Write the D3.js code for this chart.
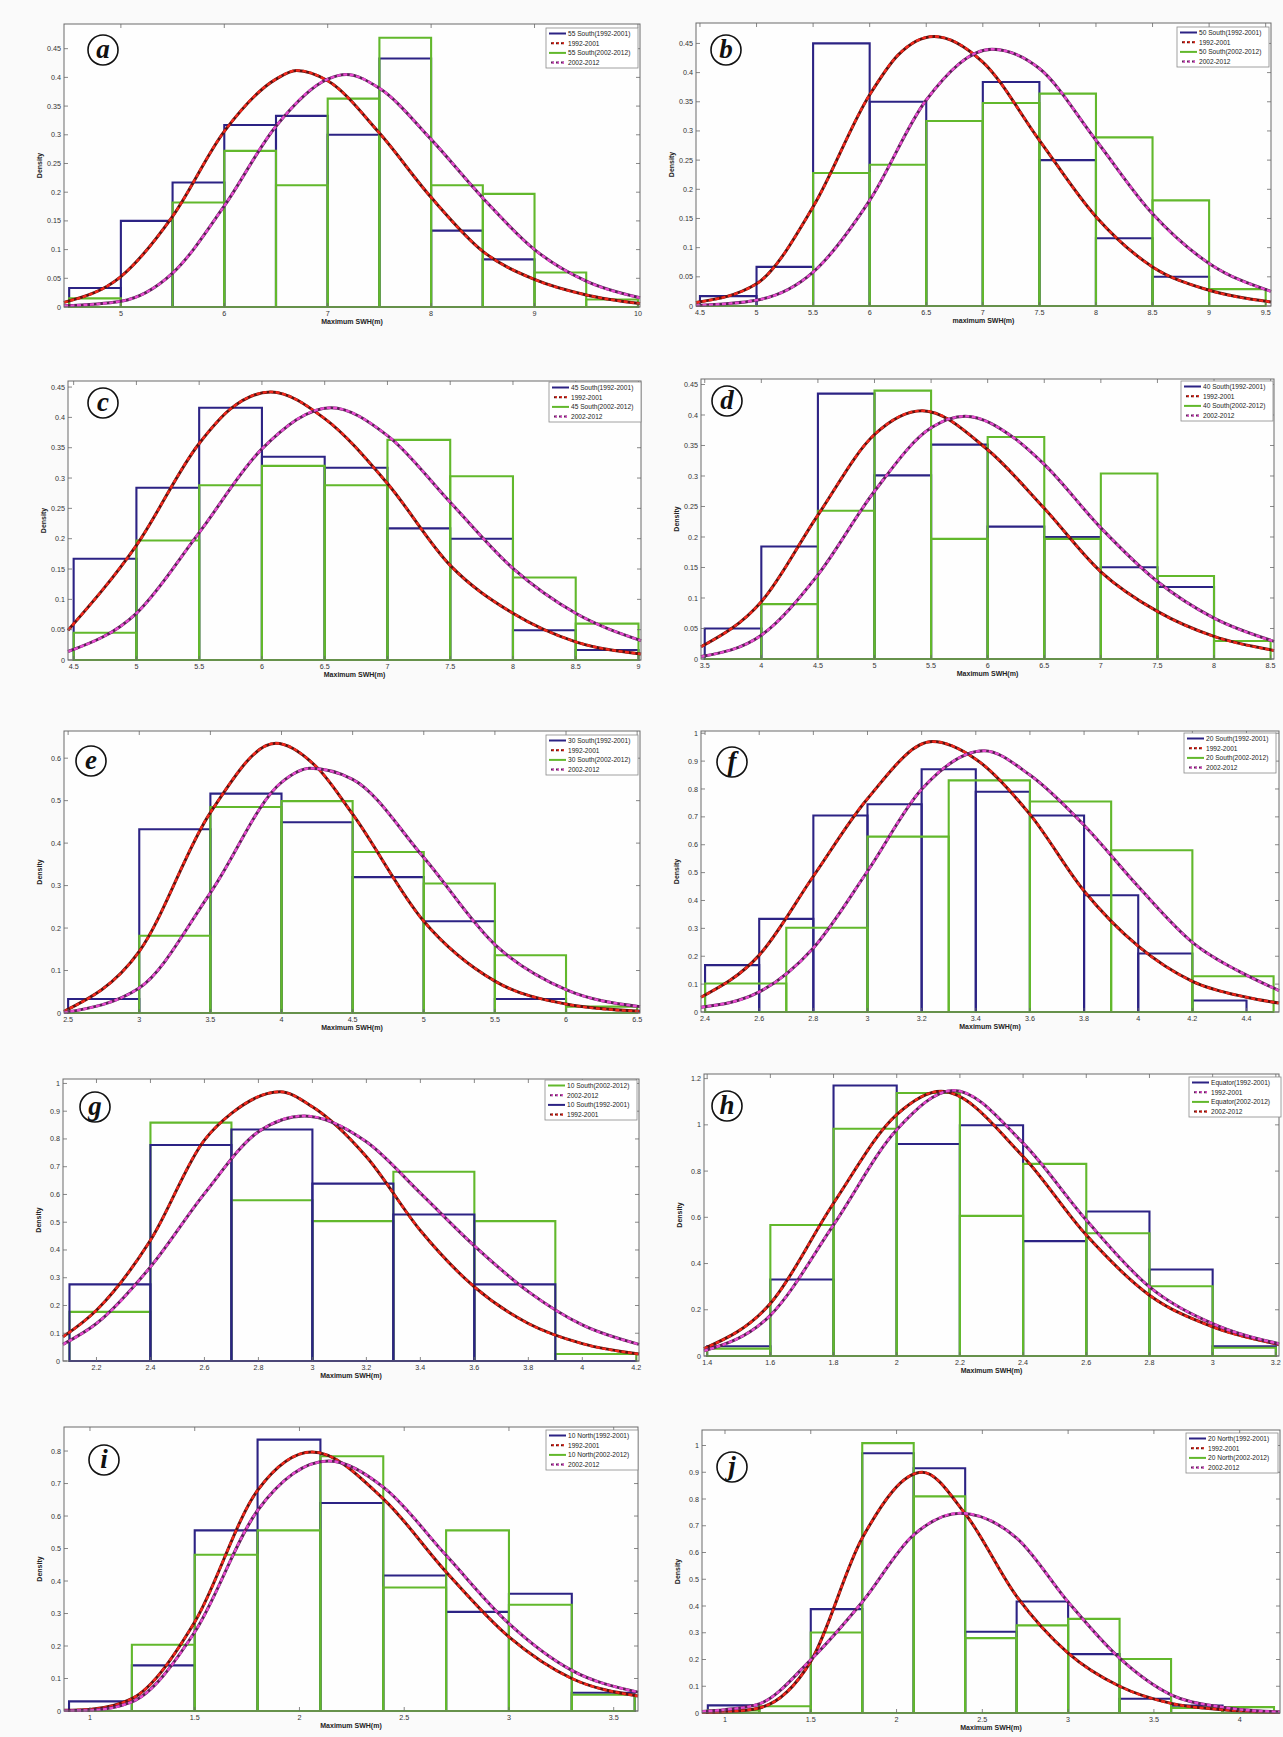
<!DOCTYPE html>
<html>
<head>
<meta charset="utf-8">
<script src="https://cdn.jsdelivr.net/npm/d3@7"></script>
<style>
  body { margin: 0; background: #fafafa; }
  svg { display: block; }
</style>
</head>
<body>
<svg id="chart" width="1283" height="1737"></svg>
<script>
// ---------------- data ----------------
// histograms: bin edges + density per bin; fits: [x, density] points along the fitted curve

// (a) 55 South
const a_edges = [4.5, 5, 5.5, 6, 6.5, 7, 7.5, 8, 8.5, 9, 9.5, 10];
const a_blue  = [0.033, 0.15, 0.217, 0.317, 0.333, 0.30, 0.433, 0.133, 0.083, 0, 0];
const a_green = [0.015, 0, 0.182, 0.272, 0.212, 0.363, 0.469, 0.212, 0.197, 0.06, 0.013];
const a_red   = [[4.45,0.008],[5,0.053],[5.5,0.158],[6,0.306],[6.5,0.397],[6.7,0.412],[7,0.394],[7.5,0.303],[8,0.191],[8.5,0.097],[9,0.048],[9.5,0.021],[10.02,0.006]];
const a_pink  = [[4.45,0.002],[5,0.01],[5.5,0.059],[6,0.176],[6.5,0.315],[7,0.397],[7.18,0.405],[7.5,0.381],[8,0.292],[8.5,0.19],[9,0.10],[9.5,0.045],[10.02,0.016]];
const a_xTicks = [5, 6, 7, 8, 9, 10];
const a_yTicks = [0, 0.05, 0.1, 0.15, 0.2, 0.25, 0.3, 0.35, 0.4, 0.45];

// (b) 50 South
const b_edges = [4.5, 5, 5.5, 6, 6.5, 7, 7.5, 8, 8.5, 9, 9.5];
const b_blue  = [0.017, 0.067, 0.45, 0.35, 0.317, 0.384, 0.25, 0.116, 0.05, 0];
const b_green = [0, 0, 0.228, 0.242, 0.317, 0.348, 0.364, 0.289, 0.181, 0.029];
const b_red   = [[4.465,0.006],[5,0.038],[5.5,0.17],[6,0.362],[6.25,0.43],[6.57,0.462],[7,0.418],[7.5,0.284],[8,0.153],[8.5,0.067],[9,0.027],[9.547,0.007]];
const b_pink  = [[4.465,0.001],[5,0.01],[5.5,0.058],[6,0.181],[6.5,0.353],[7.08,0.44],[7.5,0.407],[8,0.284],[8.5,0.158],[9,0.073],[9.547,0.025]];
const b_xTicks = [4.5, 5, 5.5, 6, 6.5, 7, 7.5, 8, 8.5, 9, 9.5];
const b_yTicks = [0, 0.05, 0.1, 0.15, 0.2, 0.25, 0.3, 0.35, 0.4, 0.45];

// (c) 45 South
const c_edges = [4.5, 5, 5.5, 6, 6.5, 7, 7.5, 8, 8.5, 9];
const c_blue  = [0.167, 0.284, 0.416, 0.335, 0.317, 0.217, 0.20, 0.049, 0.0165];
const c_green = [0.045, 0.197, 0.288, 0.32, 0.288, 0.363, 0.303, 0.136, 0.06];
const c_red   = [[4.455,0.049],[5,0.189],[5.5,0.357],[5.75,0.414],[6.07,0.442],[6.5,0.398],[7,0.291],[7.5,0.156],[8,0.077],[8.5,0.03],[9.02,0.01]];
const c_pink  = [[4.455,0.014],[5,0.077],[5.5,0.21],[6,0.348],[6.55,0.416],[7,0.37],[7.5,0.26],[8,0.151],[8.5,0.077],[9.02,0.032]];
const c_xTicks = [4.5, 5, 5.5, 6, 6.5, 7, 7.5, 8, 8.5, 9];
const c_yTicks = [0, 0.05, 0.1, 0.15, 0.2, 0.25, 0.3, 0.35, 0.4, 0.45];

// (d) 40 South
const d_edges = [3.5, 4, 4.5, 5, 5.5, 6, 6.5, 7, 7.5, 8, 8.5];
const d_blue  = [0.05, 0.1845, 0.435, 0.301, 0.3515, 0.217, 0.20, 0.1505, 0.118, 0];
const d_green = [0, 0.09, 0.243, 0.44, 0.197, 0.364, 0.197, 0.304, 0.136, 0.0296];
const d_red   = [[3.467,0.02],[4,0.094],[4.5,0.236],[5,0.368],[5.42,0.407],[6,0.343],[6.5,0.247],[7,0.143],[7.5,0.078],[8,0.037],[8.53,0.014]];
const d_pink  = [[3.467,0.004],[4,0.039],[4.5,0.138],[5,0.275],[5.5,0.379],[5.8,0.398],[6.25,0.36],[6.5,0.319],[7,0.215],[7.5,0.127],[8,0.067],[8.53,0.029]];
const d_xTicks = [3.5, 4, 4.5, 5, 5.5, 6, 6.5, 7, 7.5, 8, 8.5];
const d_yTicks = [0, 0.05, 0.1, 0.15, 0.2, 0.25, 0.3, 0.35, 0.4, 0.45];

// (e) 30 South
const e_edges = [2.5, 3, 3.5, 4, 4.5, 5, 5.5, 6, 6.5];
const e_blue  = [0.033, 0.4325, 0.5166, 0.449, 0.32, 0.216, 0.033, 0];
const e_green = [0, 0.182, 0.485, 0.499, 0.379, 0.305, 0.136, 0.015];
const e_red   = [[2.471,0.004],[3,0.145],[3.5,0.472],[3.96,0.635],[4.25,0.578],[4.5,0.468],[5,0.216],[5.5,0.075],[6,0.021],[6.52,0.004]];
const e_pink  = [[2.471,0.001],[3,0.059],[3.5,0.283],[4,0.543],[4.2,0.576],[4.5,0.55],[5,0.366],[5.5,0.161],[6,0.055],[6.52,0.015]];
const e_xTicks = [2.5, 3, 3.5, 4, 4.5, 5, 5.5, 6, 6.5];
const e_yTicks = [0, 0.1, 0.2, 0.3, 0.4, 0.5, 0.6];

// (f) 20 South (different bin widths for the two periods)
const f_edgesBlue  = [2.4, 2.6, 2.8, 3.0, 3.2, 3.4, 3.6, 3.8, 4.0, 4.2, 4.4];
const f_blue       = [0.168, 0.334, 0.705, 0.745, 0.871, 0.79, 0.705, 0.419, 0.21, 0.041];
const f_edgesGreen = [2.4, 2.7, 3.0, 3.3, 3.6, 3.9, 4.2, 4.5];
const f_green      = [0.102, 0.302, 0.629, 0.831, 0.755, 0.58, 0.128];
const f_red   = [[2.385,0.053],[2.6,0.204],[2.8,0.487],[3.0,0.765],[3.24,0.97],[3.4,0.907],[3.6,0.709],[3.8,0.434],[4.0,0.236],[4.2,0.11],[4.4,0.053],[4.52,0.032]];
const f_pink  = [[2.385,0.017],[2.6,0.072],[2.8,0.23],[3.0,0.505],[3.2,0.799],[3.43,0.937],[3.6,0.85],[3.8,0.67],[4.0,0.45],[4.2,0.25],[4.4,0.132],[4.52,0.077]];
const f_xTicks = [2.4, 2.6, 2.8, 3, 3.2, 3.4, 3.6, 3.8, 4, 4.2, 4.4];
const f_yTicks = [0, 0.1, 0.2, 0.3, 0.4, 0.5, 0.6, 0.7, 0.8, 0.9, 1];

// (g) 10 South
const g_edges = [2.1, 2.4, 2.7, 3.0, 3.3, 3.6, 3.9, 4.2];
const g_blue  = [0.276, 0.778, 0.834, 0.639, 0.528, 0.276, 0];
const g_green = [0.177, 0.859, 0.579, 0.504, 0.682, 0.504, 0.025];
const g_red   = [[2.076,0.087],[2.2,0.183],[2.4,0.435],[2.6,0.796],[2.7,0.892],[2.88,0.97],[3.0,0.916],[3.2,0.736],[3.4,0.47],[3.6,0.267],[3.8,0.135],[4.0,0.0625],[4.21,0.025]];
const g_pink  = [[2.076,0.06],[2.2,0.135],[2.4,0.339],[2.6,0.603],[2.8,0.826],[2.97,0.883],[3.2,0.79],[3.4,0.605],[3.6,0.415],[3.8,0.25],[4.0,0.13],[4.21,0.06]];
const g_xTicks = [2.2, 2.4, 2.6, 2.8, 3, 3.2, 3.4, 3.6, 3.8, 4, 4.2];
const g_yTicks = [0, 0.1, 0.2, 0.3, 0.4, 0.5, 0.6, 0.7, 0.8, 0.9, 1];

// (h) Equator (here the pink fit is 1992-2001, the red one 2002-2012)
const h_edges = [1.4, 1.6, 1.8, 2.0, 2.2, 2.4, 2.6, 2.8, 3.0, 3.2];
const h_blue  = [0.042, 0.331, 1.17, 0.917, 0.998, 0.497, 0.625, 0.374, 0.042];
const h_green = [0.032, 0.567, 0.983, 1.138, 0.606, 0.831, 0.531, 0.302, 0.036];
const h_red   = [[1.39,0.032],[1.6,0.227],[1.8,0.661],[2.0,1.044],[2.14,1.145],[2.4,0.863],[2.6,0.523],[2.8,0.263],[3.0,0.126],[3.21,0.05]];
const h_pink  = [[1.39,0.022],[1.6,0.176],[1.8,0.567],[2.0,0.979],[2.18,1.149],[2.4,0.921],[2.6,0.588],[2.8,0.299],[3.0,0.14],[3.21,0.053]];
const h_xTicks = [1.4, 1.6, 1.8, 2, 2.2, 2.4, 2.6, 2.8, 3, 3.2];
const h_yTicks = [0, 0.2, 0.4, 0.6, 0.8, 1, 1.2];

// (i) 10 North
const i_edges = [0.9, 1.2, 1.5, 1.8, 2.1, 2.4, 2.7, 3.0, 3.3, 3.6];
const i_blue  = [0.0297, 0.1405, 0.556, 0.835, 0.64, 0.417, 0.305, 0.361, 0.056];
const i_green = [0, 0.204, 0.481, 0.556, 0.784, 0.38, 0.556, 0.327, 0.05];
const i_red   = [[0.876,0.002],[1.0,0.005],[1.2,0.038],[1.5,0.274],[1.8,0.679],[2.06,0.797],[2.4,0.653],[2.7,0.428],[3.0,0.228],[3.3,0.1],[3.616,0.046]];
const i_pink  = [[0.876,0.001],[1.0,0.002],[1.2,0.028],[1.5,0.243],[1.8,0.617],[2.14,0.769],[2.4,0.689],[2.7,0.479],[3.0,0.269],[3.3,0.125],[3.616,0.058]];
const i_xTicks = [1, 1.5, 2, 2.5, 3, 3.5];
const i_yTicks = [0, 0.1, 0.2, 0.3, 0.4, 0.5, 0.6, 0.7, 0.8];

// (j) 20 North
const j_edges = [0.9, 1.2, 1.5, 1.8, 2.1, 2.4, 2.7, 3.0, 3.3, 3.6, 3.9, 4.2];
const j_blue  = [0.0286, 0, 0.3885, 0.971, 0.915, 0.304, 0.417, 0.22, 0.0535, 0.0274, 0];
const j_green = [0.01, 0.025, 0.301, 1.009, 0.81, 0.28, 0.3275, 0.352, 0.202, 0.019, 0.022];
const j_red   = [[0.866,0.001],[1.0,0.004],[1.2,0.019],[1.5,0.193],[1.8,0.654],[2.15,0.90],[2.4,0.745],[2.7,0.436],[3.0,0.224],[3.3,0.1],[3.6,0.036],[3.9,0.0125],[4.235,0.0025]];
const j_pink  = [[0.866,0.006],[1.0,0.0125],[1.2,0.034],[1.5,0.199],[1.8,0.415],[2.1,0.666],[2.37,0.747],[2.7,0.654],[3.0,0.415],[3.3,0.205],[3.6,0.068],[3.9,0.022],[4.235,0.004]];
const j_xTicks = [1, 1.5, 2, 2.5, 3, 3.5, 4];
const j_yTicks = [0, 0.1, 0.2, 0.3, 0.4, 0.5, 0.6, 0.7, 0.8, 0.9, 1];

const regions = ["55 South", "50 South", "45 South", "40 South", "30 South", "20 South", "10 South", "Equator", "10 North", "20 North"];

// ---------------- styles ----------------
const BLUE = "#2c2384";
const GREEN = "#62b82c";
const RED_OVER = "#f4281c", RED_UNDER = "#5e120e";
const PINK_OVER = "#e84ad0", PINK_UNDER = "#5a2256";
const AXIS_COLOR = "#6a6a6a";
const TICK_FONT = "Liberation Sans, Arial, sans-serif";
const TICK_SIZE = 7.2;
const LEGEND_W = 92, LEGEND_H = 40;

// ---------------- layout (pixel boxes, axis ranges) ----------------
function legendStd(name) {
   return [
      { label: name + "(1992-2001)", kind: "blue" },
      { label: "1992-2001", kind: "red" },
      { label: name + "(2002-2012)", kind: "green" },
      { label: "2002-2012", kind: "pink" }
   ];
}

var panels = [
   { tag: "a", box: [64, 24, 640, 307], xd: [4.45, 10.02], yd: [0, 0.493], tagPos: [103, 50], legPos: [546, 28],
     bars: [[a_edges, a_blue, BLUE], [a_edges, a_green, GREEN]], red: a_red, pink: a_pink,
     xTicks: a_xTicks, yTicks: a_yTicks, xLabel: "Maximum SWH(m)", legend: legendStd(regions[0]) },
   { tag: "b", box: [696, 23, 1271, 306], xd: [4.465, 9.547], yd: [0, 0.485], tagPos: [726, 50], legPos: [1177, 27],
     bars: [[b_edges, b_blue, BLUE], [b_edges, b_green, GREEN]], red: b_red, pink: b_pink,
     xTicks: b_xTicks, yTicks: b_yTicks, xLabel: "maximum SWH(m)", legend: legendStd(regions[1]) },
   { tag: "c", box: [68, 381, 641, 660], xd: [4.455, 9.02], yd: [0, 0.46], tagPos: [103, 403], legPos: [549, 382],
     bars: [[c_edges, c_blue, BLUE], [c_edges, c_green, GREEN]], red: c_red, pink: c_pink,
     xTicks: c_xTicks, yTicks: c_yTicks, xLabel: "Maximum SWH(m)", legend: legendStd(regions[2]) },
   { tag: "d", box: [701, 379, 1274, 659], xd: [3.467, 8.53], yd: [0, 0.459], tagPos: [727, 401], legPos: [1181, 381],
     bars: [[d_edges, d_blue, BLUE], [d_edges, d_green, GREEN]], red: d_red, pink: d_pink,
     xTicks: d_xTicks, yTicks: d_yTicks, xLabel: "Maximum SWH(m)", legend: legendStd(regions[3]) },
   { tag: "e", box: [64, 731, 640, 1013], xd: [2.471, 6.52], yd: [0, 0.664], tagPos: [91, 761], legPos: [546, 735],
     bars: [[e_edges, e_blue, BLUE], [e_edges, e_green, GREEN]], red: e_red, pink: e_pink,
     xTicks: e_xTicks, yTicks: e_yTicks, xLabel: "Maximum SWH(m)", legend: legendStd(regions[4]) },
   { tag: "f", box: [701, 731, 1279, 1012], xd: [2.385, 4.52], yd: [0, 1.008], tagPos: [732, 762], legPos: [1184, 733],
     bars: [[f_edgesBlue, f_blue, BLUE], [f_edgesGreen, f_green, GREEN]], red: f_red, pink: f_pink,
     xTicks: f_xTicks, yTicks: f_yTicks, xLabel: "Maximum SWH(m)", legend: legendStd(regions[5]) },
   { tag: "g", box: [63, 1079, 639, 1361], xd: [2.076, 4.21], yd: [0, 1.016], tagPos: [95, 1107], legPos: [545, 1080],
     bars: [[g_edges, g_green, GREEN], [g_edges, g_blue, BLUE]], red: g_red, pink: g_pink,
     xTicks: g_xTicks, yTicks: g_yTicks, xLabel: "Maximum SWH(m)",
     legend: [
        { label: regions[6] + "(2002-2012)", kind: "green" },
        { label: "2002-2012", kind: "pink" },
        { label: regions[6] + "(1992-2001)", kind: "blue" },
        { label: "1992-2001", kind: "red" }
     ] },
   { tag: "h", box: [704, 1074, 1279, 1356], xd: [1.39, 3.21], yd: [0, 1.22], tagPos: [727, 1106], legPos: [1189, 1077],
     bars: [[h_edges, h_blue, BLUE], [h_edges, h_green, GREEN]], red: h_red, pink: h_pink,
     xTicks: h_xTicks, yTicks: h_yTicks, xLabel: "Maximum SWH(m)",
     legend: [
        { label: regions[7] + "(1992-2001)", kind: "blue" },
        { label: "1992-2001", kind: "pink" },
        { label: regions[7] + "(2002-2012)", kind: "green" },
        { label: "2002-2012", kind: "red" }
     ] },
   { tag: "i", box: [64, 1427, 638, 1711], xd: [0.876, 3.616], yd: [0, 0.874], tagPos: [104, 1460], legPos: [546, 1430],
     bars: [[i_edges, i_blue, BLUE], [i_edges, i_green, GREEN]], red: i_red, pink: i_pink,
     xTicks: i_xTicks, yTicks: i_yTicks, xLabel: "Maximum SWH(m)", legend: legendStd(regions[8]) },
   { tag: "j", box: [702, 1430, 1280, 1713], xd: [0.866, 4.235], yd: [0, 1.058], tagPos: [732, 1467], legPos: [1186, 1433],
     bars: [[j_edges, j_blue, BLUE], [j_edges, j_green, GREEN]], red: j_red, pink: j_pink,
     xTicks: j_xTicks, yTicks: j_yTicks, xLabel: "Maximum SWH(m)", legend: legendStd(regions[9]) }
];

var svg = d3.select("#chart");

function fmt(v) { return String(+v.toFixed(3)); }

// dark line underneath, bright dashes on top (the two-tone dashed look of the fits)
function drawFit(g, line, pts, under, over) {
   g.append("path").datum(pts).attr("d", line)
    .attr("fill", "none").attr("stroke", under).attr("stroke-width", 3);
   g.append("path").datum(pts).attr("d", line)
    .attr("fill", "none").attr("stroke", over).attr("stroke-width", 2.4)
    .attr("stroke-dasharray", "4,2.5");
}

function drawPanel(p) {
   var x0 = p.box[0], y0 = p.box[1], x1 = p.box[2], y1 = p.box[3];
   var x = d3.scaleLinear().domain(p.xd).range([x0, x1]);
   var y = d3.scaleLinear().domain(p.yd).range([y1, y0]);
   var g = svg.append("g").attr("class", "panel-" + p.tag);

   // plot background
   g.append("rect").attr("x", x0).attr("y", y0).attr("width", x1 - x0).attr("height", y1 - y0)
    .attr("fill", "#fefefe");

   var clipId = "clip-" + p.tag;
   g.append("clipPath").attr("id", clipId).append("rect")
    .attr("x", x0 - 1).attr("y", y0 - 1).attr("width", x1 - x0 + 2).attr("height", y1 - y0 + 2);

   var plot = g.append("g").attr("clip-path", "url(#" + clipId + ")");

   // histogram outlines (unfilled bars)
   p.bars.forEach(function(b) {
      var edges = b[0], vals = b[1], color = b[2];
      plot.append("g").selectAll("path")
          .data(vals)
          .enter().append("path")
          .attr("d", function(v, k) {
             var xa = x(edges[k]), xb = x(edges[k + 1]), yb = y(0), yt = y(v);
             return "M" + xa + "," + yb + "V" + yt + "H" + xb + "V" + yb + "Z";
          })
          .attr("fill", "none")
          .attr("stroke", color)
          .attr("stroke-width", 2.1);
   });

   // fitted curves
   var line = d3.line().x(function(d) { return x(d[0]); }).y(function(d) { return y(d[1]); })
                .curve(d3.curveMonotoneX);
   drawFit(plot, line, p.red, RED_UNDER, RED_OVER);
   drawFit(plot, line, p.pink, PINK_UNDER, PINK_OVER);

   // box
   g.append("rect").attr("x", x0).attr("y", y0).attr("width", x1 - x0).attr("height", y1 - y0)
    .attr("fill", "none").attr("stroke", AXIS_COLOR).attr("stroke-width", 1);

   // ticks (inward, on all four sides)
   var tk = g.append("g").attr("stroke", AXIS_COLOR).attr("stroke-width", 0.8);
   p.xTicks.forEach(function(v) {
      var xx = x(v);
      tk.append("line").attr("x1", xx).attr("x2", xx).attr("y1", y1).attr("y2", y1 - 4);
      tk.append("line").attr("x1", xx).attr("x2", xx).attr("y1", y0).attr("y2", y0 + 4);
   });
   p.yTicks.forEach(function(v) {
      var yy = y(v);
      tk.append("line").attr("x1", x0).attr("x2", x0 + 4).attr("y1", yy).attr("y2", yy);
      tk.append("line").attr("x1", x1).attr("x2", x1 - 4).attr("y1", yy).attr("y2", yy);
   });

   // tick labels
   g.append("g").selectAll("text").data(p.xTicks).enter().append("text")
    .attr("x", function(v) { return x(v); })
    .attr("y", y1 + 9)
    .attr("text-anchor", "middle")
    .attr("font-family", TICK_FONT).attr("font-size", TICK_SIZE).attr("fill", "#333")
    .text(fmt);
   g.append("g").selectAll("text").data(p.yTicks).enter().append("text")
    .attr("x", x0 - 3)
    .attr("y", function(v) { return y(v); })
    .attr("dy", "0.35em")
    .attr("text-anchor", "end")
    .attr("font-family", TICK_FONT).attr("font-size", TICK_SIZE).attr("fill", "#333")
    .text(fmt);

   // axis labels
   g.append("text")
    .attr("x", (x0 + x1) / 2).attr("y", y1 + 17)
    .attr("text-anchor", "middle")
    .attr("font-family", TICK_FONT).attr("font-size", 7).attr("font-weight", "bold").attr("fill", "#222")
    .text(p.xLabel);
   g.append("text")
    .attr("transform", "translate(" + (x0 - 22) + "," + ((y0 + y1) / 2) + ") rotate(-90)")
    .attr("text-anchor", "middle")
    .attr("font-family", TICK_FONT).attr("font-size", 7).attr("font-weight", "bold").attr("fill", "#222")
    .text("Density");

   // legend
   var lg = g.append("g").attr("transform", "translate(" + p.legPos[0] + "," + p.legPos[1] + ")");
   lg.append("rect").attr("width", LEGEND_W).attr("height", LEGEND_H)
     .attr("fill", "#ffffff").attr("stroke", "#8a8a8a").attr("stroke-width", 0.8);
   var row = lg.selectAll("g.row").data(p.legend).enter().append("g")
     .attr("transform", function(d, k) { return "translate(0," + (5.5 + k * 9.7) + ")"; });
   row.each(function(d) {
      var r = d3.select(this);
      if (d.kind === "blue" || d.kind === "green") {
         r.append("line").attr("x1", 3).attr("x2", 20).attr("y1", 0).attr("y2", 0)
          .attr("stroke", d.kind === "blue" ? BLUE : GREEN).attr("stroke-width", 2);
      } else {
         var under = d.kind === "red" ? RED_UNDER : PINK_UNDER;
         var over = d.kind === "red" ? RED_OVER : PINK_OVER;
         r.append("line").attr("x1", 5).attr("x2", 19).attr("y1", 0).attr("y2", 0)
          .attr("stroke", under).attr("stroke-width", 2).attr("stroke-dasharray", "3,2");
         r.append("line").attr("x1", 6.5).attr("x2", 19).attr("y1", 0).attr("y2", 0)
          .attr("stroke", over).attr("stroke-width", 1.8).attr("stroke-dasharray", "1.5,3.5");
      }
   });
   row.append("text")
      .attr("x", 22).attr("y", 0).attr("dy", "0.35em")
      .attr("font-family", TICK_FONT).attr("font-size", 6.6).attr("fill", "#222")
      .text(function(d) { return d.label; });

   // circled panel letter
   var t = g.append("g").attr("transform", "translate(" + p.tagPos[0] + "," + p.tagPos[1] + ")");
   t.append("circle").attr("r", 15).attr("fill", "#ffffff").attr("stroke", "#111").attr("stroke-width", 1.6);
   t.append("text")
    .attr("y", 8)
    .attr("text-anchor", "middle")
    .attr("font-family", "Liberation Serif, Times New Roman, serif")
    .attr("font-style", "italic").attr("font-weight", "bold")
    .attr("font-size", 27).attr("fill", "#111")
    .text(p.tag);
}

panels.forEach(drawPanel);
</script>
</body>
</html>
